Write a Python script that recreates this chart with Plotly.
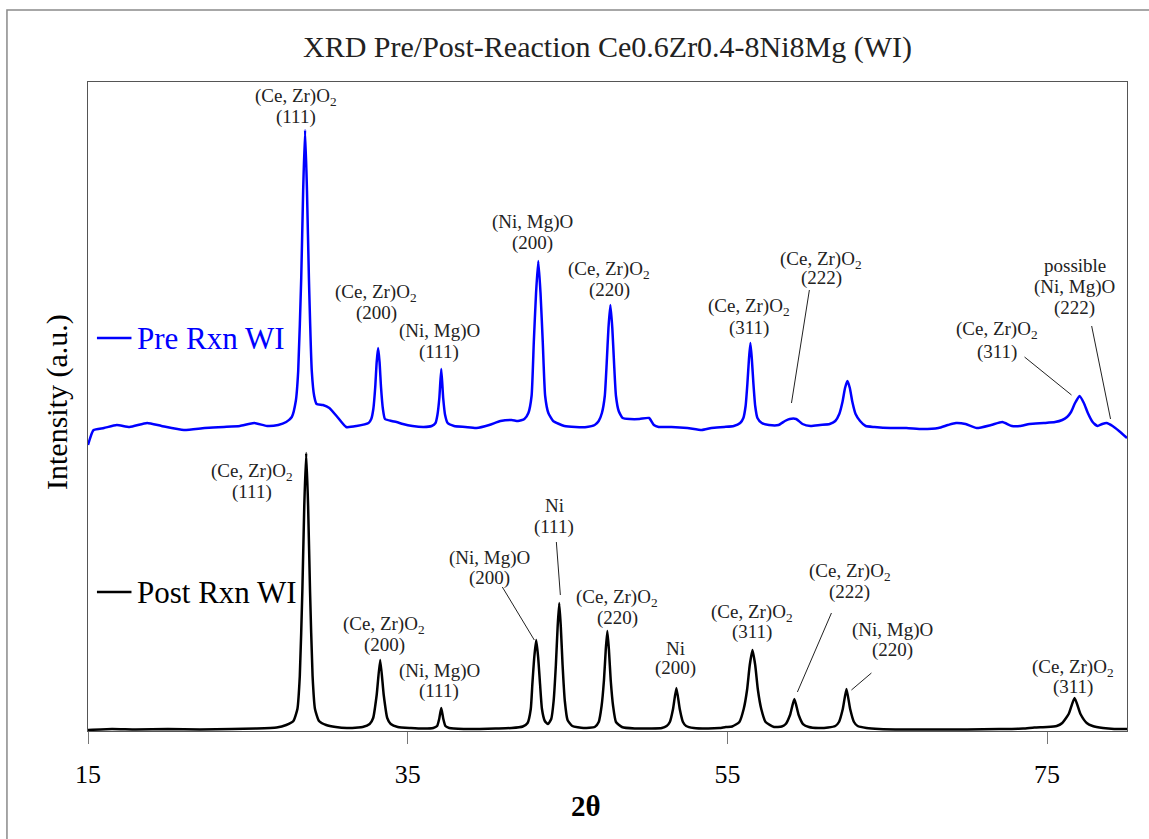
import plotly.graph_objects as go

# ---------------- data ----------------
THETA_POST = [15.0, 16.5, 18.0, 20.0, 22.0, 24.0, 25.5, 26.8,
              27.4, 27.85, 28.1, 28.25, 28.41, 28.53, 28.65, 28.77, 28.89, 29.05, 29.2, 29.45, 29.9,
              30.5, 31.2, 31.9,
              32.18, 32.62, 32.84, 33.06, 33.28, 33.50, 33.72, 33.94, 34.38,
              35.2, 36.0,
              36.6, 36.84, 36.97, 37.10, 37.23, 37.36, 37.6,
              38.5, 39.5, 40.5, 41.5,
              42.2, 42.5, 42.7, 42.8, 42.92, 43.04, 43.16, 43.28, 43.4, 43.58, 43.78,
              43.98, 44.13, 44.27, 44.38, 44.48, 44.58, 44.69, 44.83, 45.0, 45.3,
              46.0,
              46.7, 46.95, 47.13, 47.28, 47.39, 47.49, 47.59, 47.70, 47.85, 48.03, 48.4,
              49.2, 50.2, 50.9,
              51.2, 51.4, 51.6, 51.81, 52.02, 52.22, 52.42, 52.9,
              53.8, 54.5, 54.9,
              55.3, 55.75, 56.02, 56.23, 56.4, 56.57, 56.74, 56.91, 57.12, 57.39, 57.92,
              58.4, 58.65, 58.92, 59.19, 59.46, 59.73, 60.1,
              60.7, 61.3,
              61.75, 61.98, 62.22, 62.45, 62.68, 62.92, 63.15, 63.7,
              64.5, 66.0, 68.0, 70.0, 72.0, 73.5, 74.2, 75.0,
              75.6, 75.95, 76.35, 76.72, 77.09, 77.48, 77.85, 78.5,
              79.2, 80.0]
INT_POST = [1, 2, 1.5, 2, 1.5, 2, 2.5, 3.5,
            6, 10, 22, 55, 140, 225, 278, 225, 140, 55, 22, 10, 6,
            4, 3, 3.5,
            4, 7, 13, 36, 71, 36, 13, 7, 4,
            3, 2.5,
            3, 5, 12, 23, 12, 5, 3,
            2, 2, 2.5, 3,
            4.5, 8, 22, 47, 74, 91, 74, 47, 22, 10, 7,
            12, 30, 66, 104, 128, 104, 66, 30, 11, 5,
            3,
            4, 9, 25, 51, 81, 100, 81, 51, 25, 9, 4,
            2.5, 2.5, 3,
            5, 9, 22, 43, 22, 9, 5, 3,
            2.5, 3, 4,
            4.5, 9, 22, 41, 66, 81, 66, 41, 22, 9, 4,
            4.5, 7, 16, 32, 16, 7, 4,
            3, 3.5,
            5, 9, 22, 42, 22, 9, 5, 3,
            2, 1.5, 1.5, 1.5, 2, 2.5, 3.5, 4,
            5, 8, 17, 33, 17, 8, 5, 3,
            2, 2]

THETA_PRE = [15.0, 15.35, 16.0, 16.8, 17.6, 18.7, 19.6, 21.0, 22.3, 23.5, 24.5, 25.4, 26.2, 26.9,
             27.4, 27.75, 28.0, 28.15, 28.34, 28.46, 28.58, 28.70, 28.82, 29.0, 29.15,
             29.3, 29.7, 30.1, 30.6, 31.15, 31.8,
             32.55, 32.72, 32.85, 32.97, 33.06, 33.15, 33.24, 33.33, 33.45, 33.58,
             34.0, 34.3, 34.7, 35.3, 36.0, 36.5,
             36.74, 36.86, 36.98, 37.10, 37.22, 37.34, 37.5,
             37.9, 38.6, 39.3, 40.1, 40.8, 41.5, 41.9,
             42.3, 42.55, 42.75, 42.89, 43.03, 43.17, 43.31, 43.45, 43.6, 43.8, 44.1,
             44.8, 45.5, 46.2, 46.7,
             46.95, 47.15, 47.33, 47.45, 47.56, 47.68, 47.80, 47.91, 48.03, 48.2, 48.45,
             48.9, 49.5, 50.1, 50.4, 50.7, 51.5, 52.5, 53.4, 54.0, 54.8, 55.4,
             55.8, 56.0, 56.14, 56.25, 56.35, 56.44, 56.53, 56.63, 56.74, 56.88, 57.15,
             57.6, 58.2, 58.6, 58.9, 59.3, 59.7, 60.2, 60.8,
             61.4, 61.75, 62.0, 62.2, 62.36, 62.51, 62.66, 62.82, 63.02, 63.3, 63.65,
             64.2, 65.2, 66.2, 67.2, 68.2, 68.8, 69.3, 69.9, 70.6, 71.5, 72.2, 72.8, 73.3, 73.9,
             74.8, 75.5, 75.95, 76.25, 76.5, 76.75, 77.03, 77.3, 77.55, 77.85, 78.15,
             78.45, 78.72, 79.1, 79.5, 80.0]
INT_PRE = [286, 301, 303, 306, 304, 308, 305, 301, 303, 304, 305, 308, 305, 306,
           309, 314, 330, 360, 453, 540, 601, 540, 453, 360, 335,
           327, 326, 323, 314, 304, 305,
           308, 312, 322, 344, 369, 383, 369, 344, 322, 312,
           310, 309, 307, 305, 304, 305,
           308, 316, 333, 362, 333, 316, 308,
           305, 304, 303, 306, 310, 311, 310,
           312, 318, 335, 389, 438, 470, 438, 389, 335, 318, 310,
           305, 304, 304, 306,
           310, 318, 335, 368, 403, 426, 403, 368, 335, 320, 313,
           312, 312, 313, 306, 304, 304, 303, 301, 303, 304, 305,
           308, 313, 325, 347, 372, 388, 372, 347, 325, 313, 308,
           306, 306, 310, 312, 312, 307, 305, 306,
           307, 310, 317, 329, 343, 350, 343, 329, 317, 310, 305,
           304, 303, 303, 302, 303, 306, 308, 307, 303, 306, 309, 305, 305, 307,
           308, 309, 311, 314, 319, 328, 335, 328, 318, 309, 305,
           307, 308, 305, 300, 293]

assert len(THETA_POST) == len(INT_POST) and len(THETA_PRE) == len(INT_PRE)

X_TICKS = [15, 35, 55, 75]
SERIES_NAMES = ["Pre Rxn WI", "Post Rxn WI"]

CZ = "(Ce, Zr)O<sub>2</sub>"
NM = "(Ni, Mg)O"
# label lines: (text, 2theta, intensity)
PRE_LABELS = [
    (CZ, 28.02, 634), ("(111)", 28.02, 614),
    (CZ, 33.03, 438), ("(200)", 33.03, 418),
    (NM, 36.97, 400), ("(111)", 36.97, 379),
    (NM, 42.79, 509), ("(200)", 42.79, 488),
    (CZ, 47.61, 461), ("(220)", 47.61, 441),
    (CZ, 56.38, 424), ("(311)", 56.38, 403),
    (CZ, 60.88, 471), ("(222)", 60.88, 453),
    (CZ, 71.84, 401), ("(311)", 71.84, 379),
    ("possible", 76.72, 466), (NM, 76.72, 444), ("(222)", 76.72, 423),
]
POST_LABELS = [
    (CZ, 25.27, 259), ("(111)", 25.27, 239),
    (CZ, 33.53, 106), ("(200)", 33.53, 86),
    (NM, 36.97, 60), ("(111)", 36.97, 40),
    (NM, 40.10, 173), ("(200)", 40.10, 153),
    ("Ni", 44.17, 226), ("(111)", 44.17, 204),
    (CZ, 48.11, 133), ("(220)", 48.11, 113),
    ("Ni", 51.75, 83), ("(200)", 51.75, 63),
    (CZ, 56.57, 118), ("(311)", 56.57, 99),
    (CZ, 62.64, 159), ("(222)", 62.64, 139),
    (NM, 65.33, 101), ("(220)", 65.33, 81),
    (CZ, 76.60, 63), ("(311)", 76.60, 44),
]
LEADERS = [
    (60.13, 441, 59.01, 328), (73.59, 374, 76.53, 336), (77.79, 405, 78.97, 312),
    (40.92, 144, 42.92, 91), (44.30, 189, 44.55, 136), (61.51, 118, 59.38, 39), (64.01, 58, 62.76, 41),
]

FONT = "Liberation Serif, Times New Roman, serif"

fig = go.Figure()
fig.add_trace(go.Scatter(x=THETA_PRE, y=INT_PRE, mode="lines", name=SERIES_NAMES[0],
                         line=dict(color="#0000FF", width=2.5, shape="spline", smoothing=0.5)))
fig.add_trace(go.Scatter(x=THETA_POST, y=INT_POST, mode="lines", name=SERIES_NAMES[1],
                         line=dict(color="#000000", width=2.5, shape="spline", smoothing=0.5)))

ann = []
for text, x, y in PRE_LABELS + POST_LABELS:
    ann.append(dict(text=text, x=x, y=y, xref="x", yref="y", showarrow=False, xanchor="center",
                    yanchor="middle", font=dict(family=FONT, size=19, color="#222222")))

shapes = []
for x0, y0, x1, y1 in LEADERS:
    shapes.append(dict(type="line", xref="x", yref="y", x0=x0, y0=y0, x1=x1, y1=y1,
                       line=dict(color="#222222", width=1)))

# in-plot legend entries
for name, color, y in [(SERIES_NAMES[0], "#0000FF", 393), (SERIES_NAMES[1], "#000000", 139)]:
    shapes.append(dict(type="line", xref="x", yref="y", x0=15.56, x1=17.72, y0=y, y1=y,
                       line=dict(color=color, width=2.5)))
    ann.append(dict(text=name, x=17.94, y=y, xref="x", yref="y", showarrow=False, xanchor="left",
                    yanchor="middle", font=dict(family=FONT, size=31, color=color)))

# outer frame
shapes.append(dict(type="rect", xref="paper", yref="paper", x0=-0.078, x1=1.06, y0=-0.3, y1=1.111,
                   line=dict(color="#8a8a8a", width=1.5), layer="below"))

# title and axis titles
ann.append(dict(text="XRD Pre/Post-Reaction Ce0.6Zr0.4-8Ni8Mg (WI)", x=(607 - 88) / 1039, y=(731 - 47) / 649,
                xref="paper", yref="paper", showarrow=False, xanchor="center", yanchor="middle",
                font=dict(family=FONT, size=30, color="#222222")))
ann.append(dict(text="<b>2θ</b>", x=(586 - 88) / 1039, y=(731 - 806) / 649, xref="paper", yref="paper",
                showarrow=False, xanchor="center", yanchor="middle", font=dict(family=FONT, size=29, color="#000")))
ann.append(dict(text="Intensity (a.u.)", x=(57 - 88) / 1039, y=(731 - 402) / 649, xref="paper", yref="paper",
                showarrow=False, xanchor="center", yanchor="middle", textangle=-90,
                font=dict(family=FONT, size=30, color="#000")))

fig.update_layout(
    width=1149, height=839,
    margin=dict(l=88, r=22, t=82, b=108),
    paper_bgcolor="white", plot_bgcolor="white",
    showlegend=False,
    annotations=ann, shapes=shapes,
    xaxis=dict(range=[15, 80], tickvals=X_TICKS, ticks="outside", ticklen=12, tickcolor="#777",
               showgrid=False, zeroline=False, showline=True, linecolor="#555", linewidth=1, mirror=True,
               tickfont=dict(family=FONT, size=26, color="#000"), ticklabelstandoff=8),
    yaxis=dict(range=[0, 649], showticklabels=False, ticks="", showgrid=False, zeroline=False,
               showline=True, linecolor="#555", linewidth=1, mirror=True),
)

fig.write_html("out.html")
